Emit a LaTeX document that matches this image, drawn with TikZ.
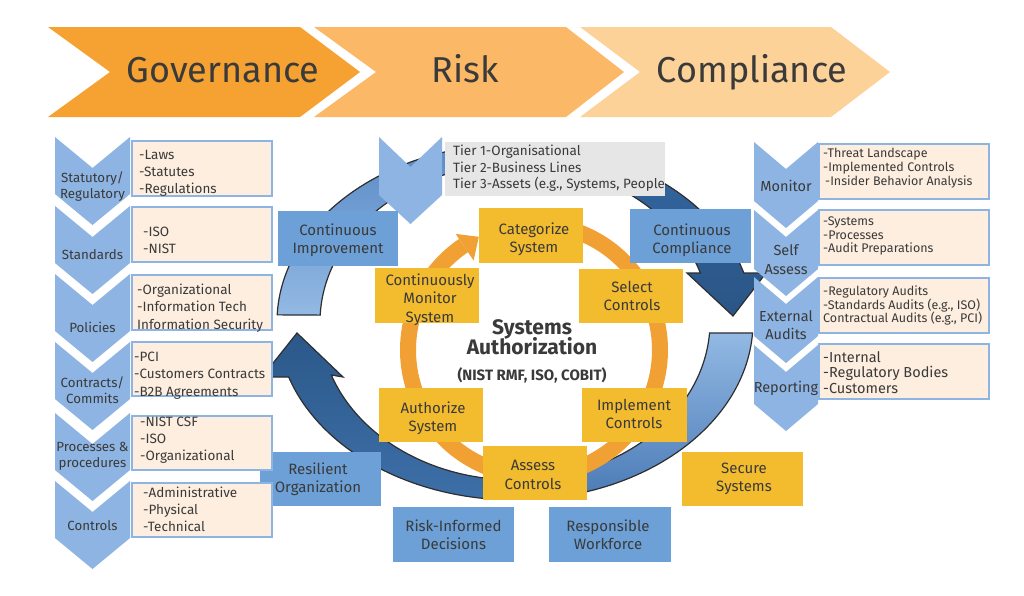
\documentclass[tikz,border=0pt]{standalone}
\usepackage{fontspec}
\setmainfont{Fira Sans}
\newcommand\fs[2]{\fontsize{#1}{#2}\selectfont}
\definecolor{txt}{HTML}{3A3A3A}
\definecolor{gov}{HTML}{F6A233}
\definecolor{risk}{HTML}{FBB866}
\definecolor{comp}{HTML}{FDD299}
\definecolor{lchev}{HTML}{8DB4E2}
\definecolor{bbl}{HTML}{6CA0D6}
\definecolor{yel}{HTML}{F3BB2E}
\definecolor{orng}{HTML}{F1A033}
\definecolor{peach}{HTML}{FDEEDF}
\definecolor{grayb}{HTML}{E6E6E6}
\definecolor{outl}{HTML}{2E2E2E}
\definecolor{ulTop}{HTML}{5A8BC6}
\definecolor{ulBot}{HTML}{93B9E4}
\definecolor{urTop}{HTML}{3466A0}
\definecolor{urBot}{HTML}{2A5586}
\definecolor{lrTop}{HTML}{93B9E4}
\definecolor{lrBot}{HTML}{4B7BB6}
\definecolor{llTop}{HTML}{2B5889}
\definecolor{llBot}{HTML}{3D6FA8}
\tikzset{
  tnode/.style={inner sep=0pt, text=txt},
  ybox/.style={fill=yel, inner sep=0pt},
  bbox/.style={fill=bbl, inner sep=0pt},
  boxtext/.style={inner sep=0pt, text=txt, align=center, font=\fs{15}{18.3}},
  pbox/.style={fill=peach, draw=lchev, line width=1.5pt, inner sep=0pt, anchor=north west},
  arrowline/.style={draw=outl, line width=1.2pt, line join=miter},
  lchevlab/.style={inner sep=0pt, text=txt, align=center, font=\fs{13.3}{16}},
  rchevlab/.style={inner sep=0pt, text=txt, align=center, font=\fs{14.5}{18.5}},
  ltext/.style={inner sep=0pt, text=txt, align=left, anchor=west, font=\fs{13.5}{17.2}},
  rtext/.style={inner sep=0pt, text=txt, align=left, anchor=west, font=\fs{12.5}{13.8}},
}
\begin{document}
\begin{tikzpicture}[x=1pt,y=-1pt]
\useasboundingbox (0,0) rectangle (1024,595);
\fill[white] (0,0) rectangle (1024,595);

% ---------- top chevrons ----------
\fill[gov] (48,27) -- (300,27) -- (360,72) -- (300,117) -- (48,117) -- (110,72) -- cycle;
\fill[risk] (314,27) -- (566,27) -- (624,72) -- (566,117) -- (314,117) -- (376,72) -- cycle;
\fill[comp] (580,27) -- (831,27) -- (890,72) -- (831,117) -- (580,117) -- (640,72) -- cycle;
\node[tnode, anchor=base, font=\fs{36}{40}] (tgov) at (223,82) {Governance};
\node[tnode, anchor=base, font=\fs{36}{40}] (trisk) at (465,82) {Risk};
\node[tnode, anchor=base, font=\fs{36}{40}] (tcomp) at (752,82) {Compliance};

% ---------- blue circular arrows ----------
% upper left
\path[arrowline, top color=ulTop, bottom color=ulBot]
  plot[domain=177.7:100, samples=60, variable=\t] ({515+238*cos(\t)},{322-178*sin(\t)})
  -- plot[domain=100:177.5, samples=60, variable=\t] ({515+195*cos(\t)},{322-158*sin(\t)}) -- cycle;
% upper right
\path[arrowline, top color=urTop, bottom color=urBot]
  plot[domain=70:15.97, samples=50, variable=\t] ({515+238*cos(\t)},{322-178*sin(\t)})
  -- (766,273) -- (733,316) -- (687,273)
  -- plot[domain=18.07:70, samples=50, variable=\t] ({515+195*cos(\t)},{322-158*sin(\t)}) -- cycle;
% lower right
\path[arrowline, top color=lrTop, bottom color=lrBot]
  plot[domain=-3.54:-80, samples=60, variable=\t] ({515+238*cos(\t)},{322-178*sin(\t)})
  -- plot[domain=-80:-3.99, samples=60, variable=\t] ({515+195*cos(\t)},{322-158*sin(\t)}) -- cycle;
% lower left
\path[arrowline, top color=llTop, bottom color=llBot]
  plot[domain=-95:-162, samples=60, variable=\t] ({515+238*cos(\t)},{322-178*sin(\t)})
  -- (262,377) -- (297,333) -- (343,377)
  -- plot[domain=-160.4:-95, samples=60, variable=\t] ({515+195*cos(\t)},{322-158*sin(\t)}) -- cycle;

% ---------- orange ring ----------
\draw[orng, line width=16pt] plot[domain=90:-236, samples=150, variable=\t] ({534+126*cos(\t)},{350-126*sin(\t)});
\fill[orng] (455.7,233.9) -- (478.8,236.8) -- (473.6,260.5) -- cycle;

% ---------- tier chevron and box ----------
\fill[lchev] (379,137) -- (410.5,167) -- (442,137) -- (442,195) -- (410.5,224) -- (379,195) -- cycle;
\fill[grayb] (445,142) rectangle (665,196);
\node[tnode, anchor=west, align=left, font=\fs{13.5}{16.5}] (tier) at (453,168.5)
  {Tier 1-Organisational\\Tier 2-Business Lines\\Tier 3-Assets (e.g., Systems, People};

% ---------- blue boxes ----------
\node[bbox, minimum width=120pt, minimum height=55pt] (ci) at (338,238.5) {};
\node[bbox, minimum width=121pt, minimum height=54pt] (cc) at (690.5,236) {};
\node[bbox, minimum width=121pt, minimum height=54pt] (ro) at (320.5,479) {};
\node[bbox, minimum width=121pt, minimum height=55pt] (rid) at (453.5,534.5) {};
\node[bbox, minimum width=122pt, minimum height=55pt] (rw) at (610,534.5) {};
\node[boxtext] (ciT) at (338,240.5) {Continuous\\Improvement};
\node[boxtext] (ccT) at (692,240) {Continuous\\Compliance};
\node[boxtext] (roT) at (318,479) {Resilient\\Organization};
\node[boxtext] (ridT) at (453.5,534.5) {Risk-Informed\\Decisions};
\node[boxtext] (rwT) at (608,534.5) {Responsible\\Workforce};

% ---------- yellow boxes ----------
\node[ybox, minimum width=104pt, minimum height=55pt] (cat) at (531,235.5) {};
\node[ybox, minimum width=104pt, minimum height=54pt] (sel) at (631,296) {};
\node[ybox, minimum width=104pt, minimum height=55pt] (cms) at (427,295.5) {};
\node[ybox, minimum width=104pt, minimum height=54pt] (auth) at (431,415) {};
\node[ybox, minimum width=105pt, minimum height=54pt] (impl) at (634.5,415) {};
\node[ybox, minimum width=104pt, minimum height=54pt] (assess) at (535,473) {};
\node[ybox, minimum width=121pt, minimum height=54pt] (sec) at (742.5,479) {};
\node[boxtext] (catT) at (534,239.5) {Categorize\\System};
\node[boxtext] (selT) at (632,296) {Select\\Controls};
\node[boxtext, font=\fs{15}{18.5}] (cmsT) at (430,299.5) {Continuously\\Monitor\\System};
\node[boxtext] (authT) at (433,418) {Authorize\\System};
\node[boxtext] (implT) at (634,414) {Implement\\Controls};
\node[boxtext] (assessT) at (533,475) {Assess\\Controls};
\node[boxtext] (secT) at (744,479) {Secure\\Systems};

% ---------- centre title ----------
\node[tnode, anchor=base, font=\bfseries\fs{21}{21}] (sys) at (532,334) {Systems};
\node[tnode, anchor=base, font=\bfseries\fs{21}{21}] (authz) at (532,354) {Authorization};
\node[tnode, anchor=base, font=\bfseries\fs{15}{15}] (rmf) at (532,380) {(NIST RMF, ISO, COBIT)};

% ---------- left chevrons ----------
\foreach \T in {137,206,274,342,413,481}{
  \fill[lchev] (55,\T) -- (92.5,\T+31) -- (130,\T) -- (130,\T+57) -- (92.5,\T+88) -- (55,\T+57) -- cycle;
}
\node[lchevlab] (l1) at (92.5,187) {Statutory/\\Regulatory};
\node[lchevlab] (l2) at (92.5,255) {Standards};
\node[lchevlab] (l3) at (92.5,327) {Policies};
\node[lchevlab] (l4) at (92.5,390.5) {Contracts/\\Commits};
\node[lchevlab] (l5) at (92.5,456) {Processes \&\\procedures};
\node[lchevlab] (l6) at (92.5,526) {Controls};

% ---------- left peach boxes ----------
\node[pbox, minimum width=140pt, minimum height=55pt] (lb1) at (131,140) {};
\node[pbox, minimum width=140pt, minimum height=55pt] (lb2) at (131,206) {};
\node[pbox, minimum width=140pt, minimum height=55pt] (lb3) at (131,274) {};
\node[pbox, minimum width=140pt, minimum height=54pt] (lb4) at (131,341) {};
\node[pbox, minimum width=140pt, minimum height=54pt] (lb5) at (131,415) {};
\node[pbox, minimum width=140pt, minimum height=54pt] (lb6) at (131,482) {};
\node[ltext] (lt1) at (139,173) {-Laws\\-Statutes\\-Regulations};
\node[ltext] (lt2) at (143,240) {-ISO\\-NIST};
\node[ltext] (lt3) at (137,308) {-Organizational\\-Information Tech\\Information Security};
\node[ltext] (lt4) at (134,375.5) {-PCI\\-Customers Contracts\\-B2B Agreements};
\node[ltext] (lt5) at (140,440) {-NIST CSF\\-ISO\\-Organizational};
\node[ltext] (lt6) at (143,509.5) {-Administrative\\-Physical\\-Technical};

% ---------- right chevrons ----------
\foreach \T in {142,210,277,345}{
  \fill[lchev] (754,\T) -- (786,\T+27) -- (818,\T) -- (818,\T+59) -- (786,\T+86) -- (754,\T+59) -- cycle;
}
\node[rchevlab] (r1) at (786,186) {Monitor};
\node[rchevlab] (r2) at (786,259.5) {Self\\Assess};
\node[rchevlab] (r3) at (786,325) {External\\Audits};
\node[rchevlab] (r4) at (786,388) {Reporting};

% ---------- right peach boxes ----------
\node[pbox, minimum width=170pt, minimum height=55pt] (rb1) at (818,143) {};
\node[pbox, minimum width=170pt, minimum height=55pt] (rb2) at (818,209) {};
\node[pbox, minimum width=170pt, minimum height=55pt] (rb3) at (818,277) {};
\node[pbox, minimum width=170pt, minimum height=55pt] (rb4) at (818,343) {};
\node[rtext] (rt1) at (823,168) {-Threat Landscape\\-Implemented Controls\\\hspace{2pt}-Insider Behavior Analysis};
\node[rtext] (rt2) at (823,236) {-Systems\\-Processes\\-Audit Preparations};
\node[rtext] (rt3) at (823,305.5) {-Regulatory Audits\\-Standards Audits (e.g., ISO)\\Contractual Audits (e.g., PCI)};
\node[rtext, font=\fs{14.5}{15.5}] (rt4) at (823,372.5) {-Internal\\-Regulatory Bodies\\-Customers};
\end{tikzpicture}
\end{document}
